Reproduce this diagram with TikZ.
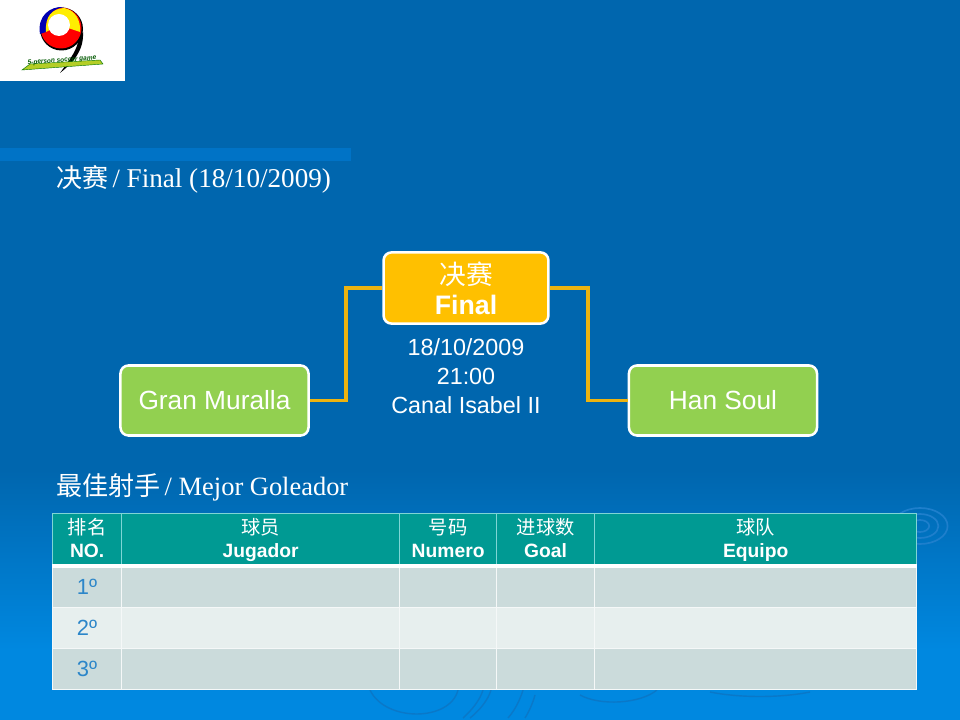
\documentclass[tikz,border=0pt]{standalone}
\usepackage{fontspec}
\setmainfont{Liberation Serif}
\setsansfont{Liberation Sans}
\newfontfamily\cjk{Noto Sans CJK SC}
\usetikzlibrary{positioning}
\definecolor{deepblue}{HTML}{0066AE}
\definecolor{lowblue}{HTML}{0088E0}
\definecolor{stripblue}{HTML}{0073C6}
\definecolor{ripple}{HTML}{1E7FCC}
\definecolor{darkripple}{HTML}{0A78C8}
\definecolor{gold}{HTML}{FFC000}
\definecolor{linkgold}{HTML}{EDB310}
\definecolor{leaf}{HTML}{92D050}
\definecolor{teal}{HTML}{009A93}
\definecolor{rowdark}{HTML}{CBDBDB}
\definecolor{rowlight}{HTML}{E7EFEE}
\definecolor{rankblue}{HTML}{2C86C9}
\definecolor{headline}{HTML}{7FD5D5}
\begin{document}
\begin{tikzpicture}[x=0.025cm,y=-0.025cm,
    team node/.style={rectangle,rounded corners=0.2cm,draw=white,line width=1.8pt,fill=leaf,
      minimum width=4.7cm,minimum height=1.75cm,text=white,font=\sffamily\fontsize{18.7}{22}\selectfont},
    final node/.style={rectangle,rounded corners=0.2cm,draw=white,line width=1.8pt,fill=gold,
      minimum width=4.12cm,minimum height=1.78cm,text=white,align=center,font=\sffamily\fontsize{19}{21.5}\selectfont},
    title node/.style={anchor=west,inner sep=0pt,text=white,font=\fontsize{18.8}{22}\selectfont},
    info node/.style={align=center,inner sep=0pt,text=white,font=\sffamily\fontsize{16.6}{20.6}\selectfont},
    head cell/.style={draw=headline,line width=0.9pt,fill=teal,inner sep=0pt,text=white,align=center,
      font=\sffamily\bfseries\fontsize{13.7}{16.4}\selectfont},
    body cell/.style={draw=white!80!rowdark,line width=0.8pt,inner sep=0pt,text=rankblue,
      font=\sffamily\fontsize{15.6}{18}\selectfont},
    link/.style={draw=linkgold,line width=2.2pt}]
  \useasboundingbox (0,0) rectangle (960,720);
  % background
  \fill[deepblue] (0,0) rectangle (960,470);
  \fill[top color=deepblue,bottom color=lowblue] (0,470) rectangle (960,650);
  \fill[lowblue] (0,650) rectangle (960,720);
  \fill[stripblue] (0,148) rectangle (351,161);
  % ripples
  \foreach \r in {8,16,24} \draw[ripple,line width=1.2pt] (920,526) ellipse ({\r*1.15} and {\r*0.75});
  \begin{scope}[darkripple,line width=1pt]
    \draw (370,690) .. controls (385,722) and (450,722) .. (458,690);
    \draw (463,718) .. controls (472,710) and (480,700) .. (483,690);
    \draw (470,718) .. controls (480,710) and (488,700) .. (491,690);
    \draw (508,718) .. controls (515,710) and (520,700) .. (523,690);
    \draw (525,718) .. controls (530,710) and (533,702) .. (535,695);
    \draw (580,695) .. controls (600,706) and (640,704) .. (657,690);
    \draw (710,692) .. controls (740,698) and (780,698) .. (810,692);
  \end{scope}
  % logo
  \fill[white] (0,0) rectangle (125,81);
  \fill[black] (61.5,29) circle (21.5);
  \fill[black] (83,32) .. controls (84,50) and (74,62) .. (60,73) .. controls (68,62) and (76,52) .. (78,42) -- cycle;
  \fill[red] (61,28) circle (20.5);
  \fill[blue!70!black] (40,34) .. controls (37,16) and (50,6) .. (64,7) .. controls (52,9) and (45,16) .. (46,32) -- cycle;
  \fill[yellow!95!orange] (46,32) .. controls (45,16) and (52,9) .. (64,8) .. controls (75,10) and (81,20) .. (80,32) .. controls (74,30) and (68,28) .. (59,25) -- cycle;
  \fill[white] (59,25) circle (11);
  \fill[yellow!75!green!90!black,draw=green!45!black,line width=0.3pt] (22,70) -- (30,64) -- (100,60) -- (103,64) -- cycle;
  \node[rotate=4,inner sep=0pt,text=green!35!black,font=\sffamily\bfseries\itshape\fontsize{4.6}{5}\selectfont] (logotext) at (62,60.5) {5-person soccer game};
  % titles
  \node[title node] (finaltitle) at (56,179) {{\cjk\fontsize{18.5}{22}\selectfont 决赛}\,/ {\fontsize{19.3}{22}\selectfont Final (18/10/2009)}};
  \node[title node] (scorertitle) at (56,487) {{\cjk\fontsize{18.5}{22}\selectfont 最佳射手}\,/ Mejor Goleador};
  % bracket
  \node[final node] (final) at (466,288) {{\cjk 决赛}\\\textbf{Final}};
  \node[team node] (gran) at (214.5,400.5) {Gran Muralla};
  \node[team node] (han) at (723,400.5) {Han Soul};
  \node[info node] (info) at (466,376) {18/10/2009\\21:00\\Canal Isabel II};
  \coordinate (granbend) at (346,400.5);
  \coordinate (hanbend) at (588,400.5);
  \draw[link] (gran) -- (granbend) |- (final);
  \draw[link] (han) -- (hanbend) |- (final);
  % table
  \foreach \col/\xa/\cw/\cn/\es in {no/52/69/排名/NO.,jug/121/278/球员/Jugador,num/399/97/号码/Numero,goal/496/98/进球数/Goal,team/594/322/球队/Equipo}{
    \node[head cell,anchor=north west,minimum width=\cw*0.025cm,minimum height=1.3cm] (head\col) at (\xa,513) {{\cjk\mdseries\vphantom{排}\cn}\\\vphantom{Jg}\es};
    \foreach \row/\ya/\rh/\tone in {1/565/42/rowdark,2/607/41/rowlight,3/648/41/rowdark}
      \node[body cell,anchor=north west,fill=\tone,minimum width=\cw*0.025cm,minimum height=\rh*0.025cm] (\col\row) at (\xa,\ya) {};
  }
  \foreach \row in {1,2,3}
    \node[body cell,fill=none,draw=none] (rank\row) at (no\row) {\row º};
  \draw[white,line width=2.6pt] (headno.south west) -- (headteam.south east);
\end{tikzpicture}
\end{document}
